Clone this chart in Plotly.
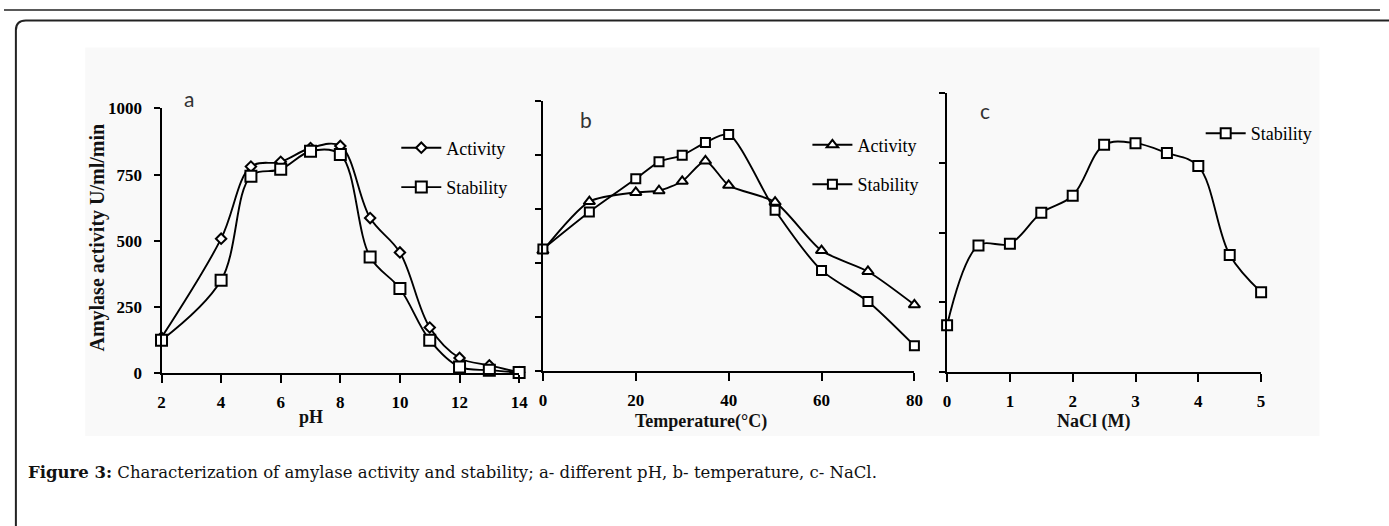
import plotly.graph_objects as go

W, H = 1389, 526

# ---------------- data ----------------
ph = [2, 4, 5, 6, 7, 8, 9, 10, 11, 12, 13, 14]
ph_activity = [135, 508, 780, 798, 850, 858, 586, 456, 173, 58, 30, 4]
ph_stability = [125, 351, 744, 770, 838, 826, 439, 320, 125, 24, 12, 3]

temp = [0, 10, 20, 25, 30, 35, 40, 50, 60, 70, 80]
temp_activity = [446, 627, 661, 667, 702, 777, 687, 625, 446, 369, 246]
temp_stability = [452, 589, 711, 774, 798, 845, 875, 595, 373, 258, 95]

nacl = [0, 0.5, 1, 1.5, 2, 2.5, 3, 3.5, 4, 4.5, 5]
nacl_stability = [169, 454, 460, 571, 632, 814, 820, 785, 738, 420, 287]

a_yticks = [0, 250, 500, 750, 1000]
a_xticks = [2, 4, 6, 8, 10, 12, 14]
b_xticks = [0, 20, 40, 60, 80]
b_yticks = [0, 200, 400, 600, 800, 1000]
c_xticks = [0, 1, 2, 3, 4, 5]
c_yticks = [0, 250, 500, 750, 1000]


def px(x):
    return x / W


def py(y):
    return 1 - y / H


SERIF = "Liberation Serif, Times New Roman, serif"
SANS = "Lato, Open Sans, sans-serif"

fig = go.Figure()


def add(x, y, name, symbol, size, xa, ya, leg, smooth):
    fig.add_trace(go.Scatter(
        x=x, y=y, name=name, mode="lines+markers",
        line=dict(color="black", width=1.9, shape="spline", smoothing=smooth),
        marker=dict(symbol=symbol, size=size, color="white",
                    line=dict(color="black", width=2)),
        xaxis=xa, yaxis=ya, legend=leg, legendgroup=leg + name,
        cliponaxis=False,
    ))


add(ph, ph_activity, "Activity", "diamond", 8, "x", "y", "legend", 1.0)
add(ph, ph_stability, "Stability", "square", 11, "x", "y", "legend", 1.0)
add(temp, temp_activity, "Activity", "triangle-up", 10, "x2", "y2", "legend2", 0.7)
add(temp, temp_stability, "Stability", "square", 9, "x2", "y2", "legend2", 0.7)
add(nacl, nacl_stability, "Stability", "square", 10, "x3", "y3", "legend3", 1.0)

axcommon = dict(showline=True, linecolor="black", linewidth=2, ticks="outside",
                tickwidth=1.5, tickcolor="black", showgrid=False,
                zeroline=False, fixedrange=True)
tickfont = dict(family=SERIF, size=17, color="black", weight="bold")
xax = dict(ticklen=8, ticklabelstandoff=4, tickfont=tickfont, **axcommon)
yax = dict(ticklen=6, **axcommon)

fig.update_layout(
    width=W, height=H, autosize=False,
    margin=dict(l=0, r=0, t=0, b=0),
    paper_bgcolor="white", plot_bgcolor="rgba(0,0,0,0)",
    xaxis=dict(domain=[px(159), px(520)], range=[2, 14], tickvals=a_xticks,
               anchor="y", **xax),
    yaxis=dict(domain=[py(378), py(103)], range=[0, 1000], tickvals=a_yticks,
               anchor="x", tickfont=tickfont, ticklabelstandoff=8, **yax),
    xaxis2=dict(domain=[px(544), px(919)], range=[0, 80], tickvals=b_xticks,
                anchor="y2", **xax),
    yaxis2=dict(domain=[py(376), py(95)], range=[0, 1000], tickvals=b_yticks,
                anchor="x2", showticklabels=False, **yax),
    xaxis3=dict(domain=[px(952), px(1269)], range=[0, 5], tickvals=c_xticks,
                anchor="y3", **xax),
    yaxis3=dict(domain=[py(377), py(87)], range=[0, 1000], tickvals=c_yticks,
                anchor="x3", showticklabels=False, **yax),
    showlegend=True,
)

legfont = dict(family=SERIF, size=18, color="black")
for key, lx, ly in [("legend", 396, 125), ("legend2", 811, 122), ("legend3", 1208, 110)]:
    fig.update_layout({key: dict(x=px(lx), y=py(ly), xanchor="left", yanchor="top",
                                 bgcolor="rgba(0,0,0,0)", font=legfont,
                                 tracegroupgap=13, traceorder="grouped",
                                 itemwidth=40)})

# background of the figure image and page frame
r = 10
frame_path = (f"M {px(12)},{py(540)} L {px(12)},{py(12 + r)} "
              f"Q {px(12)},{py(12)} {px(12 + r)},{py(12)} L {px(1400)},{py(12)}")
fig.update_layout(shapes=[
    dict(type="rect", xref="paper", yref="paper", x0=px(82), x1=px(1328),
         y0=py(443), y1=py(40), fillcolor="#f9f9f9", line=dict(width=0),
         layer="below"),
    dict(type="line", xref="paper", yref="paper", x0=0, x1=1, y0=py(1), y1=py(1),
         line=dict(color="#222", width=1.5)),
    dict(type="path", xref="paper", yref="paper", path=frame_path,
         line=dict(color="#222", width=2)),
])

titlefont = dict(family=SERIF, size=18, color="#111", weight="bold")
ann = []


def note(text, x, y, font, **kw):
    d = dict(text=text, x=px(x), y=py(y), font=font, showarrow=False,
             xref="paper", yref="paper", xanchor="center", yanchor="middle")
    d.update(kw)
    ann.append(d)


note("Amylase activity U/ml/min", 94, 237,
     dict(family=SERIF, size=20, color="#111", weight="bold"), textangle=-90)
note("pH", 310, 423, titlefont)
note("Temperature(°C)", 704, 428, titlefont)
note("NaCl (M)", 1100, 428, titlefont)
for t, x, y in [("a", 187, 93), ("b", 587, 115), ("c", 990, 105)]:
    note(t, x, y, dict(family=SANS, size=21, color="#333"))
note("<b>Figure 3:</b> Characterization of amylase activity and stability; "
     "a- different pH, b- temperature, c- NaCl.", 22, 481,
     dict(family="DejaVu Serif, serif", size=16.5, color="#111"), xanchor="left")
fig.update_layout(annotations=ann)

fig.write_html("out.html", config={"displayModeBar": False},
               post_script="document.body.style.margin='0';document.body.style.overflow='hidden';")
